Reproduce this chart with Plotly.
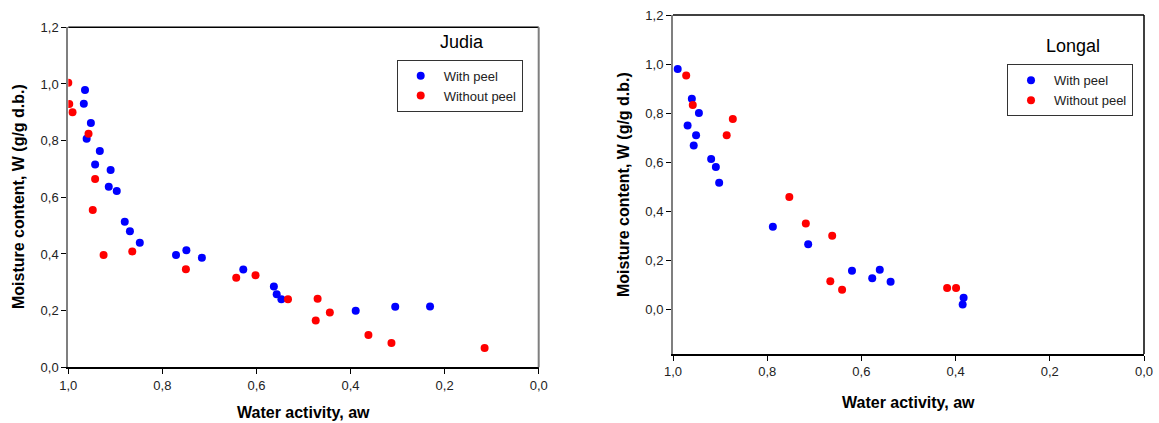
import plotly.graph_objects as go

# Judia: water activity (aw) and moisture content W (g/g d.b.)
judia_peel_aw = [0.9645, 0.967, 0.952, 0.961, 0.933, 0.943, 0.910, 0.914, 0.897, 0.880, 0.869,
                 0.848, 0.771, 0.749, 0.716, 0.628, 0.563, 0.557, 0.547, 0.389, 0.305, 0.231]
judia_peel_w = [0.979, 0.930, 0.862, 0.807, 0.763, 0.716, 0.696, 0.637, 0.622, 0.514, 0.480,
                0.440, 0.396, 0.413, 0.387, 0.345, 0.285, 0.258, 0.240, 0.200, 0.214, 0.215]
judia_nopeel_aw = [1.000, 0.998, 0.991, 0.957, 0.943, 0.948, 0.925, 0.864, 0.750, 0.643, 0.602,
                   0.533, 0.470, 0.474, 0.444, 0.362, 0.313, 0.115]
judia_nopeel_w = [1.004, 0.929, 0.900, 0.824, 0.665, 0.555, 0.396, 0.409, 0.346, 0.316, 0.325,
                  0.240, 0.242, 0.165, 0.193, 0.114, 0.086, 0.068]

# Longal
longal_peel_aw = [0.990, 0.960, 0.945, 0.969, 0.951, 0.956, 0.919, 0.909, 0.902, 0.788, 0.713,
                  0.620, 0.577, 0.561, 0.538, 0.383, 0.385]
longal_peel_w = [0.980, 0.859, 0.801, 0.750, 0.710, 0.669, 0.614, 0.581, 0.517, 0.338, 0.267,
                 0.159, 0.128, 0.163, 0.114, 0.049, 0.022]
longal_nopeel_aw = [0.972, 0.958, 0.873, 0.886, 0.753, 0.718, 0.662, 0.666, 0.641, 0.418, 0.399]
longal_nopeel_w = [0.954, 0.834, 0.777, 0.710, 0.459, 0.351, 0.301, 0.116, 0.082, 0.089, 0.089]

tick_vals_x = [1.0, 0.8, 0.6, 0.4, 0.2, 0.0]
tick_vals_y = [0.0, 0.2, 0.4, 0.6, 0.8, 1.0, 1.2]

W, H = 1159, 423
BLUE, RED = "#0000FF", "#FF0000"
GRAY = "#7f7f7f"
FONT = "Liberation Sans, Arial, sans-serif"

fig = go.Figure()

def add_series(x, y, color, name, xa, ya, legend):
    fig.add_trace(go.Scatter(
        x=x, y=y, mode="markers", name=name, xaxis=xa, yaxis=ya, legend=legend,
        marker=dict(color=color, size=8, line=dict(width=0)),
    ))

add_series(judia_peel_aw, judia_peel_w, BLUE, "With peel", "x", "y", "legend")
add_series(judia_nopeel_aw, judia_nopeel_w, RED, "Without peel", "x", "y", "legend")
add_series(longal_peel_aw, longal_peel_w, BLUE, "With peel", "x2", "y2", "legend2")
add_series(longal_nopeel_aw, longal_nopeel_w, RED, "Without peel", "x2", "y2", "legend2")

# plot areas in pixels: (left, right, top, bottom)
left_box = (68.3, 538.7, 27.3, 367.3)
right_box = (673.0, 1144.0, 15.0, 354.0)

def dom_x(b):
    return [b[0] / W, b[1] / W]

def dom_y(b):
    return [1 - b[3] / H, 1 - b[2] / H]

tickfont = dict(family=FONT, size=13, color="#222222")

def xaxis(box, anchor):
    return dict(domain=dom_x(box), range=[1.0, 0.0], anchor=anchor, automargin=False,
                tickvals=tick_vals_x, tickformat=".1f", ticks="outside", ticklen=5,
                tickcolor="black", showline=True, linecolor="black", linewidth=1.5,
                showgrid=False, zeroline=False, tickfont=tickfont)

def yaxis(box, anchor, rng):
    return dict(domain=dom_y(box), range=rng, anchor=anchor, automargin=False,
                tickvals=tick_vals_y, tickformat=".1f", ticks="outside", ticklen=5,
                tickcolor="black", showline=True, linecolor=GRAY, linewidth=2,
                showgrid=False, zeroline=False, tickfont=tickfont)

legend_style = dict(bordercolor="#333333", borderwidth=1, bgcolor="white",
                    font=dict(family=FONT, size=13, color="#222222"),
                    xanchor="left", yanchor="top", itemwidth=36, tracegroupgap=0)

fig.update_layout(
    width=W, height=H, margin=dict(l=0, r=0, t=0, b=0, autoexpand=False),
    paper_bgcolor="white", plot_bgcolor="white",
    separators=",.",
    xaxis=xaxis(left_box, "y"),
    yaxis=yaxis(left_box, "x", [0.0, 1.2]),
    xaxis2=xaxis(right_box, "y2"),
    yaxis2=yaxis(right_box, "x2", [-0.18, 1.2]),
    legend=dict(x=396.7 / W, y=1 - 59.7 / H, **legend_style),
    legend2=dict(x=1007.0 / W, y=1 - 64.3 / H, **legend_style),
    showlegend=True,
)

# frame lines on top and right of each plot
fig.add_shape(type="line", xref="paper", yref="paper",
              x0=left_box[0] / W, x1=left_box[1] / W, y0=1 - left_box[2] / H, y1=1 - left_box[2] / H,
              line=dict(color="black", width=1.5))
fig.add_shape(type="line", xref="paper", yref="paper",
              x0=left_box[1] / W, x1=left_box[1] / W, y0=1 - left_box[3] / H, y1=1 - left_box[2] / H,
              line=dict(color=GRAY, width=2))
fig.add_shape(type="line", xref="paper", yref="paper",
              x0=right_box[0] / W, x1=right_box[1] / W, y0=1 - right_box[2] / H, y1=1 - right_box[2] / H,
              line=dict(color="black", width=1.5))
fig.add_shape(type="line", xref="paper", yref="paper",
              x0=right_box[1] / W, x1=right_box[1] / W, y0=1 - right_box[3] / H, y1=1 - right_box[2] / H,
              line=dict(color="black", width=1.5))

def label(text, x, y, size, bold=False, angle=0):
    fig.add_annotation(text=f"<b>{text}</b>" if bold else text, x=x / W, y=1 - y / H,
                       xref="paper", yref="paper", showarrow=False, textangle=angle,
                       xanchor="center", yanchor="middle",
                       font=dict(family=FONT, size=size, color="black"))

label("Judia", 461.7, 41.7, 18)
label("Longal", 1073.3, 46.0, 18)
label("Moisture content, W (g/g d.b.)", 18, 197, 16, bold=True, angle=-90)
label("Moisture content, W (g/g d.b.)", 623, 185, 16, bold=True, angle=-90)
label("Water activity, aw", 303, 412, 16, bold=True)
label("Water activity, aw", 908, 402, 16, bold=True)

fig.write_html("out.html")
